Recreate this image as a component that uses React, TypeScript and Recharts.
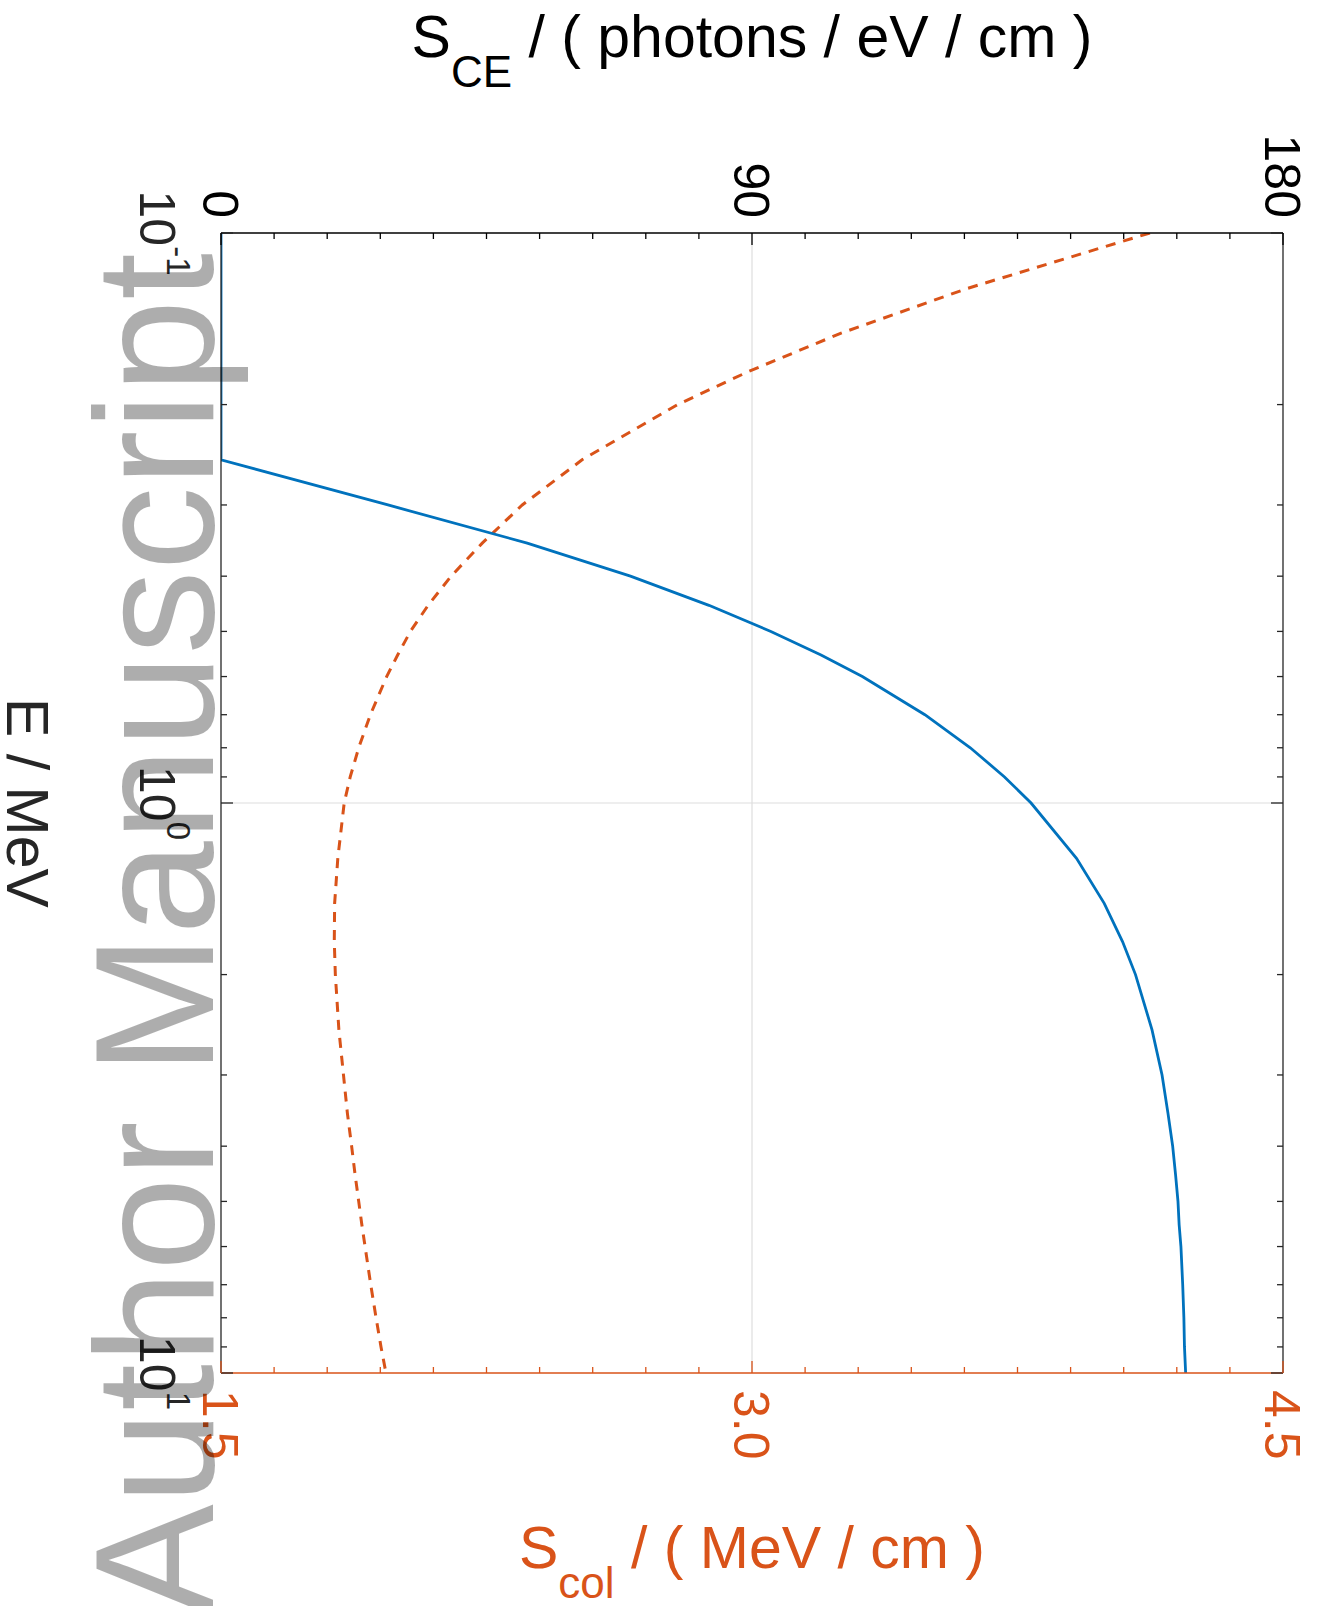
import React from "react";
import { LineChart, Line, XAxis, YAxis, ReferenceLine } from "recharts";

// electron kinetic energy, MeV
const energies = [
  0.1, 0.125, 0.15, 0.175, 0.2, 0.25, 0.3, 0.35, 0.4, 0.45, 0.5, 0.55, 0.6,
  0.7, 0.8, 0.9, 1, 1.25, 1.5, 1.75, 2, 2.5, 3, 3.5, 4, 4.5, 5, 5.5, 6, 7, 8,
  9, 10,
];

// S_CE, photons / eV / cm (blue, top axis)
const cherenkovYield = [
  0, 0, 0, 0, 0, 0, 28.3, 51.9, 69.4, 82.7, 93.2, 101.7, 108.7, 119.3, 127.0,
  132.8, 137.3, 145.0, 149.7, 152.8, 155.0, 157.8, 159.5, 160.5, 161.3, 161.8,
  162.2, 162.4, 162.7, 163.0, 163.2, 163.3, 163.5,
];

// S_col, MeV / cm (orange dashed, bottom axis)
const collisionStopping = [
  4.124, 3.61, 3.25, 2.99, 2.79, 2.52, 2.351, 2.238, 2.15, 2.085, 2.035,
  1.999, 1.968, 1.922, 1.889, 1.865, 1.848, 1.83, 1.821, 1.82, 1.823, 1.833,
  1.846, 1.857, 1.869, 1.879, 1.889, 1.898, 1.907, 1.923, 1.938, 1.952, 1.966,
];

const energyTicks = [
  0.1, 0.2, 0.3, 0.4, 0.5, 0.6, 0.7, 0.8, 0.9, 1, 2, 3, 4, 5, 6, 7, 8, 9, 10,
];
const sceTicks = [
  0, 9, 18, 27, 36, 45, 54, 63, 72, 81, 90, 99, 108, 117, 126, 135, 144, 153,
  162, 171, 180,
];
const sceLabelled = [0, 90, 180];
const scolTicks = [
  1.5, 1.65, 1.8, 1.95, 2.1, 2.25, 2.4, 2.55, 2.7, 2.85, 3.0, 3.15, 3.3, 3.45,
  3.6, 3.75, 3.9, 4.05, 4.2, 4.35, 4.5,
];
const scolLabelled = [1.5, 3.0, 4.5];

const rows = energies.map((e, i) => ({
  e,
  sce: cherenkovYield[i],
  scol: collisionStopping[i],
}));

const FONT = "'Liberation Sans', Arial, Helvetica, sans-serif";
const BLUE = "#0072BD";
const ORANGE = "#D95319";
const AXIS = "#262626";
const MAJOR = 12;
const MINOR = 6;
const TICK_FONT = 50;
const LABEL_FONT = 59;

const isDecade = (v: number) => {
  const l = Math.log10(v);
  return Math.abs(l - Math.round(l)) < 1e-6;
};
const isIn = (v: number, list: number[]) =>
  list.some((m) => Math.abs(m - v) < 1e-6);

function EnergyTick(props: any) {
  const { x, y, payload, side } = props;
  const v = payload.value as number;
  const major = isDecade(v);
  const dir = side === "bottom" ? -1 : 1;
  return (
    <g>
      <line
        x1={x}
        y1={y}
        x2={x}
        y2={y + dir * (major ? MAJOR : MINOR)}
        stroke={AXIS}
        strokeWidth={1.3}
      />
      {side === "bottom" && major && (
        <text
          x={x}
          y={y + 81}
          textAnchor="middle"
          fontFamily={FONT}
          fontSize={TICK_FONT}
          fill={AXIS}
        >
          10
          <tspan dy={-27} fontSize={33}>
            {Math.round(Math.log10(v))}
          </tspan>
        </text>
      )}
    </g>
  );
}

function SceTick(props: any) {
  const { x, y, payload } = props;
  const v = payload.value as number;
  const major = isIn(v, sceLabelled);
  return (
    <g>
      <line
        x1={x}
        y1={y}
        x2={x + (major ? MAJOR : MINOR)}
        y2={y}
        stroke="#000"
        strokeWidth={1.3}
      />
      {major && (
        <text
          x={x - 15}
          y={y}
          dy={18}
          textAnchor="end"
          fontFamily={FONT}
          fontSize={TICK_FONT}
          fill="#000"
        >
          {v}
        </text>
      )}
    </g>
  );
}

function ScolTick(props: any) {
  const { x, y, payload } = props;
  const v = payload.value as number;
  const major = isIn(v, scolLabelled);
  return (
    <g>
      <line
        x1={x}
        y1={y}
        x2={x - (major ? MAJOR : MINOR)}
        y2={y}
        stroke={ORANGE}
        strokeWidth={1.3}
      />
      {major && (
        <text
          x={x + 17}
          y={y}
          dy={18}
          textAnchor="start"
          fontFamily={FONT}
          fontSize={TICK_FONT}
          fill={ORANGE}
        >
          {v.toFixed(1)}
        </text>
      )}
    </g>
  );
}

function SideTitle(props: any) {
  const { viewBox, offset, main, sub, rest, color } = props;
  const cx = viewBox.x + offset;
  const cy = viewBox.y + viewBox.height / 2;
  return (
    <text
      x={cx}
      y={cy}
      transform={`rotate(-90 ${cx} ${cy})`}
      textAnchor="middle"
      fontFamily={FONT}
      fontSize={LABEL_FONT}
      fill={color}
    >
      {main}
      <tspan dy={30} fontSize={44}>
        {sub}
      </tspan>
      <tspan dy={-30}>{rest}</tspan>
    </text>
  );
}

function EnergyTitle(props: any) {
  const { viewBox } = props;
  return (
    <text
      x={viewBox.x + viewBox.width / 2}
      y={viewBox.y + 214}
      textAnchor="middle"
      fontFamily={FONT}
      fontSize={LABEL_FONT}
      fill={AXIS}
    >
      E / MeV
    </text>
  );
}

export default function App() {
  return (
    <div
      style={{
        position: "absolute",
        left: 0,
        top: 0,
        width: 1327,
        height: 1606,
        overflow: "hidden",
        background: "#fff",
      }}
    >
      {/* the figure is drawn landscape and turned a quarter clockwise */}
      <div
        style={{
          width: 1606,
          height: 1327,
          transformOrigin: "0 0",
          transform: "translate(1327px, 0) rotate(90deg)",
        }}
      >
        <LineChart
          width={1606}
          height={1327}
          data={rows}
          margin={{ top: 44, right: 0, bottom: 0, left: 0 }}
        >
          <XAxis
            xAxisId="e"
            dataKey="e"
            type="number"
            scale="log"
            domain={[0.1, 10]}
            allowDataOverflow
            ticks={energyTicks}
            interval={0}
            orientation="bottom"
            height={221}
            tickSize={0}
            tickMargin={0}
            tickLine={false}
            stroke={AXIS}
            axisLine={{ stroke: AXIS, strokeWidth: 1.3 }}
            tick={(p: any) => <EnergyTick {...p} side="bottom" />}
            label={(p: any) => <EnergyTitle viewBox={p.viewBox} />}
          />
          <XAxis
            xAxisId="eTop"
            dataKey="e"
            type="number"
            scale="log"
            domain={[0.1, 10]}
            allowDataOverflow
            ticks={energyTicks}
            interval={0}
            orientation="top"
            mirror
            tickSize={0}
            tickMargin={0}
            tickLine={false}
            stroke={AXIS}
            axisLine={{ stroke: AXIS, strokeWidth: 1.3 }}
            tick={(p: any) => <EnergyTick {...p} side="top" />}
          />
          <YAxis
            yAxisId="sce"
            type="number"
            domain={[0, 180]}
            allowDataOverflow
            ticks={sceTicks}
            interval={0}
            orientation="left"
            width={233}
            tickSize={0}
            tickMargin={0}
            tickLine={false}
            stroke="#000"
            axisLine={{ stroke: "#000", strokeWidth: 1.3 }}
            tick={(p: any) => <SceTick {...p} />}
            label={(p: any) => (
              <SideTitle
                viewBox={p.viewBox}
                offset={57}
                main="S"
                sub="CE"
                rest=" / ( photons / eV / cm )"
                color="#000"
              />
            )}
          />
          <YAxis
            yAxisId="scol"
            type="number"
            domain={[1.5, 4.5]}
            allowDataOverflow
            ticks={scolTicks}
            interval={0}
            orientation="right"
            width={233}
            tickSize={0}
            tickMargin={0}
            tickLine={false}
            stroke={ORANGE}
            axisLine={{ stroke: ORANGE, strokeWidth: 1.3 }}
            tick={(p: any) => <ScolTick {...p} />}
            label={(p: any) => (
              <SideTitle
                viewBox={p.viewBox}
                offset={195}
                main="S"
                sub="col"
                rest=" / ( MeV / cm )"
                color={ORANGE}
              />
            )}
          />
          <ReferenceLine
            xAxisId="e"
            yAxisId="sce"
            x={1}
            stroke="#dedede"
            strokeWidth={1.2}
          />
          <ReferenceLine
            xAxisId="e"
            yAxisId="sce"
            y={90}
            stroke="#dedede"
            strokeWidth={1.2}
          />
          <Line
            xAxisId="e"
            yAxisId="scol"
            dataKey="scol"
            type="linear"
            stroke={ORANGE}
            strokeWidth={3}
            strokeDasharray="10 8"
            dot={false}
            activeDot={false}
            isAnimationActive={false}
          />
          <Line
            xAxisId="e"
            yAxisId="sce"
            dataKey="sce"
            type="linear"
            stroke={BLUE}
            strokeWidth={2.8}
            dot={false}
            activeDot={false}
            isAnimationActive={false}
          />
        </LineChart>
      </div>
      <svg
        width={1327}
        height={1606}
        style={{ position: "absolute", left: 0, top: 0, pointerEvents: "none" }}
      >
        <text
          x={213}
          y={253}
          transform="rotate(-90 213 253)"
          textAnchor="end"
          fontFamily={FONT}
          fontSize={168}
          fill="#000"
          fillOpacity={0.32}
        >
          Author Manuscript
        </text>
      </svg>
    </div>
  );
}
